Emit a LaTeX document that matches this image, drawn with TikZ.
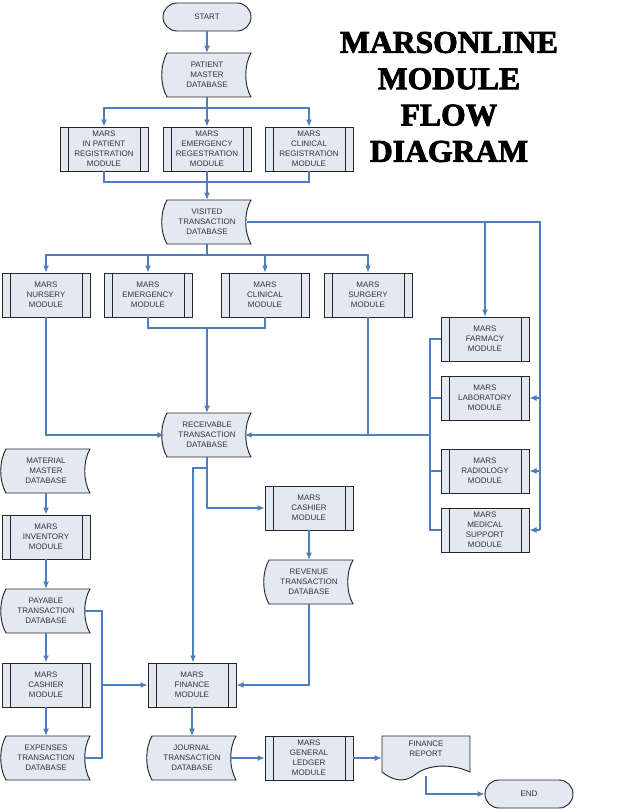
\documentclass[tikz,border=0pt]{standalone}
\usepackage{fontspec}
\setmainfont{Liberation Sans}
\newfontfamily\titlefont{Liberation Serif}[BoldFeatures={FakeBold=2.5}]
\usetikzlibrary{arrows.meta,backgrounds}
\definecolor{boxfill}{HTML}{E3E9F3}
\definecolor{flow}{HTML}{4F7EBD}
\definecolor{txt}{HTML}{333333}
\begin{document}
\begin{tikzpicture}[x=0.03cm,y=-0.03cm,
  base/.style={minimum width=2.64cm,minimum height=1.32cm,inner sep=0pt,align=center,
    font=\fontsize{6.8}{8.4}\selectfont,text=txt},
  proc/.style={base,draw=black!85,line width=0.8pt,fill=boxfill,
    path picture={\draw[black!85,line width=0.8pt]
      ([xshift=0.24cm]path picture bounding box.north west) -- ([xshift=0.24cm]path picture bounding box.south west)
      ([xshift=-0.24cm]path picture bounding box.north east) -- ([xshift=-0.24cm]path picture bounding box.south east);}},
  db/.style={base},
  doc/.style={base},
  term/.style={base,draw=black!85,line width=0.8pt,fill=boxfill,rounded corners=0.42cm,
    minimum height=0.84cm},
  shp/.style={fill=boxfill,draw=black!85,line width=0.8pt},
  ln/.style={draw=flow,line width=0.9pt},
  arr/.style={ln,-{Latex[length=6pt,width=5pt]}}
]
\useasboundingbox (0,0) rectangle (640,812);

\node[term] (start) at (207,17) {START};
\node[db] (pm) at (207,75) {PATIENT\\MASTER\\DATABASE};
\node[proc] (r1) at (104,149) {MARS\\IN PATIENT\\REGISTRATION\\MODULE};
\node[proc] (r2) at (207,149) {MARS\\EMERGENCY\\REGESTRATION\\MODULE};
\node[proc] (r3) at (309,149) {MARS\\CLINICAL\\REGISTRATION\\MODULE};
\node[db] (vis) at (207,222) {VISITED\\TRANSACTION\\DATABASE};
\node[proc] (nur) at (46,295) {MARS\\NURSERY\\MODULE};
\node[proc] (emg) at (148,295) {MARS\\EMERGENCY\\MODULE};
\node[proc] (cli) at (265,295) {MARS\\CLINICAL\\MODULE};
\node[proc] (sur) at (368,295) {MARS\\SURGERY\\MODULE};
\node[proc] (far) at (485,339) {MARS\\FARMACY\\MODULE};
\node[proc] (lab) at (485,398) {MARS\\LABORATORY\\MODULE};
\node[proc] (rad) at (485,471) {MARS\\RADIOLOGY\\MODULE};
\node[proc] (med) at (485,530) {MARS\\MEDICAL\\SUPPORT\\MODULE};
\node[db] (rec) at (207,435) {RECEIVABLE\\TRANSACTION\\DATABASE};
\node[db] (mat) at (46,471) {MATERIAL\\MASTER\\DATABASE};
\node[proc] (inv) at (46,537) {MARS\\INVENTORY\\MODULE};
\node[proc] (cas) at (309,508) {MARS\\CASHIER\\MODULE};
\node[db] (rev) at (309,582) {REVENUE\\TRANSACTION\\DATABASE};
\node[db] (pay) at (46,611) {PAYABLE\\TRANSACTION\\DATABASE};
\node[proc] (cas2) at (46,685) {MARS\\CASHIER\\MODULE};
\node[proc] (fin) at (192,685) {MARS\\FINANCE\\MODULE};
\node[db] (exp) at (46,758) {EXPENSES\\TRANSACTION\\DATABASE};
\node[db] (jou) at (192,758) {JOURNAL\\TRANSACTION\\DATABASE};
\node[proc] (gl) at (309,758) {MARS\\GENERAL\\LEDGER\\MODULE};
\node[doc] (rep) at (426,758) {FINANCE\\REPORT\\[8pt]};
\node[term] (end) at (529,794) {END};

\node[font=\titlefont\bfseries\fontsize{27}{31}\selectfont,align=center] (title) at (449,97)
  {MARSONLINE\\MODULE\\FLOW\\DIAGRAM};

\begin{scope}[on background layer]
\fill[white] (0,0) rectangle (640,812);
\foreach \n in {pm,vis,rec,mat,rev,pay,exp,jou}{
  \begin{scope}[shift={(\n.center)}]
    \filldraw[shp] (-40,-22) .. controls (-47,-10) and (-47,10) .. (-40,22) -- (44,22)
      .. controls (37,10) and (37,-10) .. (44,-22) -- cycle;
  \end{scope}}
\begin{scope}[shift={(rep.center)}]
  \filldraw[shp] (-44,-22) -- (44,-22) -- (44,14) .. controls (22,4) and (0,8) .. (-10,16)
    .. controls (-22,26) and (-34,22) .. (-44,14) -- cycle;
\end{scope}
\end{scope}

% connectors
\draw[arr] (start) -- (pm);
\coordinate (a1) at (207,108);
\draw[arr] (pm) -- (r2);
\draw[arr] (a1) -| (r1.north);
\draw[arr] (a1) -| (r3.north);
\coordinate (a2) at (207,182);
\draw[ln] (r1.south) |- (a2) -| (r3.south);
\draw[arr] (r2) -- (vis);
\coordinate (a3) at (207,255);
\draw[ln] (vis.south) -- (a3);
\draw[arr] (a3) -| (nur.north);
\draw[arr] (a3) -| (emg.north);
\draw[arr] (a3) -| (cli.north);
\draw[arr] (a3) -| (sur.north);
\coordinate (a4) at (540,222);
\draw[ln] ([xshift=-0.12cm]vis.east) -- (a4) -- (540,530);
\draw[arr] (485,222) -- (far.north);
\draw[arr] (540,398) -- (lab.east);
\draw[arr] (540,471) -- (rad.east);
\draw[arr] (540,530) -- (med.east);
\draw[arr] (nur.south) |- ([xshift=0.05cm]rec.west);
\coordinate (a5) at (207,328);
\draw[ln] (emg.south) |- (a5) -| (cli.south);
\draw[arr] (a5) -- (rec.north);
\draw[ln] (sur.south) -- (368,435);
\coordinate (a6) at (430,435);
\draw[ln] (far.west) -| (430,530) -- (med.west);
\draw[ln] (lab.west) -- (430,398) (rad.west) -- (430,471);
\draw[arr,line width=1.3pt] (a6) -- ([xshift=-0.2cm]rec.east);
\draw[arr] (rec.south) |- (cas.west);
\draw[arr] (207,468) -- (193,468) -- (fin.north -| 193,0);
\draw[arr] (cas) -- (rev);
\draw[arr] (rev.south) |- (fin.east);
\draw[arr] (mat) -- (inv);
\draw[arr] (inv) -- (pay);
\draw[arr] (pay) -- (cas2);
\draw[arr] (cas2) -- (exp);
\draw[ln] ([xshift=-0.2cm]pay.east) -| (102,758) -- ([xshift=-0.2cm]exp.east);
\draw[arr] (102,685) -- (fin.west);
\draw[arr] (fin) -- (jou);
\draw[arr] ([xshift=-0.2cm]jou.east) -- (gl.west);
\draw[arr] (gl) -- (rep);
\draw[arr] (426,776) |- (end.west);
\end{tikzpicture}
\end{document}
